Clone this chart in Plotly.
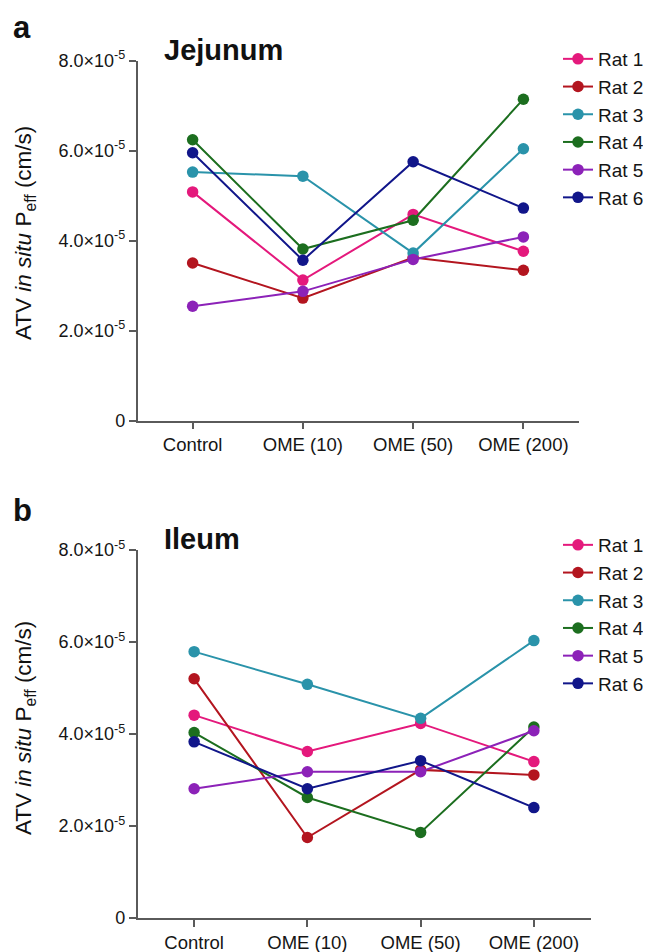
import plotly.graph_objects as go

categories = ["Control", "OME (10)", "OME (50)", "OME (200)"]
rats = ["Rat 1", "Rat 2", "Rat 3", "Rat 4", "Rat 5", "Rat 6"]
colors = ["#e4197c", "#b3151f", "#2a93aa", "#1c6e1f", "#8c22b8", "#11168a"]

# Peff values (cm/s)
jejunum = {
    "Rat 1": [5.08e-5, 3.12e-5, 4.58e-5, 3.76e-5],
    "Rat 2": [3.50e-5, 2.72e-5, 3.62e-5, 3.34e-5],
    "Rat 3": [5.52e-5, 5.43e-5, 3.72e-5, 6.04e-5],
    "Rat 4": [6.24e-5, 3.81e-5, 4.45e-5, 7.14e-5],
    "Rat 5": [2.54e-5, 2.87e-5, 3.58e-5, 4.08e-5],
    "Rat 6": [5.95e-5, 3.56e-5, 5.75e-5, 4.72e-5],
}
ileum = {
    "Rat 1": [4.41e-5, 3.62e-5, 4.23e-5, 3.40e-5],
    "Rat 2": [5.20e-5, 1.75e-5, 3.22e-5, 3.11e-5],
    "Rat 3": [5.79e-5, 5.08e-5, 4.34e-5, 6.03e-5],
    "Rat 4": [4.03e-5, 2.62e-5, 1.86e-5, 4.15e-5],
    "Rat 5": [2.81e-5, 3.18e-5, 3.18e-5, 4.07e-5],
    "Rat 6": [3.83e-5, 2.81e-5, 3.42e-5, 2.40e-5],
}

ytickvals = [0, 2e-5, 4e-5, 6e-5, 8e-5]
yticktext = ["0", "2.0×10<sup>-5</sup>", "4.0×10<sup>-5</sup>",
             "6.0×10<sup>-5</sup>", "8.0×10<sup>-5</sup>"]

# page is offset by the body's 8px margin, so the figure is 8px smaller
OFF = 8
W, H = 651 - OFF, 952 - OFF
font = "Liberation Sans, Arial, sans-serif"
axcol = "#5a5a5a"


def px(x):
    return (x - OFF) / W


def py(y):
    return 1 - (y - OFF) / H


fig = go.Figure()
for data, xa, ya, lg in [(jejunum, "x", "y", "legend"), (ileum, "x2", "y2", "legend2")]:
    for rat, c in zip(rats, colors):
        fig.add_trace(go.Scatter(
            x=categories, y=data[rat], name=rat, mode="lines+markers",
            line=dict(color=c, width=2), marker=dict(color=c, size=11.5),
            xaxis=xa, yaxis=ya, legend=lg,
        ))


def xax(domain, anchor):
    return dict(domain=domain, anchor=anchor, type="category", range=[-0.5, 3.5],
                showline=True, linecolor=axcol, linewidth=1.5, ticks="outside",
                ticklen=7, tickcolor=axcol, tickwidth=1.5, showgrid=False,
                zeroline=False, tickfont=dict(family=font, size=18.5, color="#151515"))


def yax(domain, anchor):
    return dict(domain=domain, anchor=anchor, range=[0, 8e-5], tickvals=ytickvals,
                ticktext=yticktext, showline=True, linecolor=axcol, linewidth=1.5,
                ticks="outside", ticklen=7, tickcolor=axcol, tickwidth=1.5,
                showgrid=False, zeroline=False,
                tickfont=dict(family=font, size=18, color="#151515"))


ytitle = "ATV <i>in situ</i> P<sub>eff</sub> (cm/s)"
legfont = dict(family=font, size=19, color="#151515")

fig.update_layout(
    width=W, height=H,
    margin=dict(l=0, r=0, t=0, b=0, autoexpand=False),
    paper_bgcolor="white", plot_bgcolor="white", showlegend=True,
    xaxis=xax([px(137.5), px(578.5)], "y"),
    yaxis=yax([py(420.5), py(60.5)], "x"),
    xaxis2=xax([px(137.5), px(590.5)], "y2"),
    yaxis2=yax([py(918), py(550)], "x2"),
    legend=dict(x=px(558), y=py(40), xanchor="left", yanchor="top",
                font=legfont, bgcolor="rgba(0,0,0,0)", tracegroupgap=0,
                borderwidth=0),
    legend2=dict(x=px(558), y=py(526), xanchor="left", yanchor="top",
                 font=legfont, bgcolor="rgba(0,0,0,0)", tracegroupgap=0,
                 borderwidth=0),
)

annos = [
    dict(text="<b>a</b>", x=px(11), y=py(28), font=dict(size=31)),
    dict(text="<b>b</b>", x=px(11), y=py(511), font=dict(size=31)),
    dict(text="<b>Jejunum</b>", x=px(162), y=py(50), font=dict(size=29)),
    dict(text="<b>Ileum</b>", x=px(162), y=py(539), font=dict(size=29)),
    dict(text=ytitle, x=px(25), y=py(233), textangle=-90, font=dict(size=22.5),
         xanchor="center"),
    dict(text=ytitle, x=px(25), y=py(728), textangle=-90, font=dict(size=22.5),
         xanchor="center"),
]
for a in annos:
    a.setdefault("xanchor", "left")
    a["yanchor"] = "middle"
    a["xref"] = "paper"
    a["yref"] = "paper"
    a["showarrow"] = False
    a["font"].update(family=font, color="#111")
    fig.add_annotation(**a)

fig.write_html("out.html")
